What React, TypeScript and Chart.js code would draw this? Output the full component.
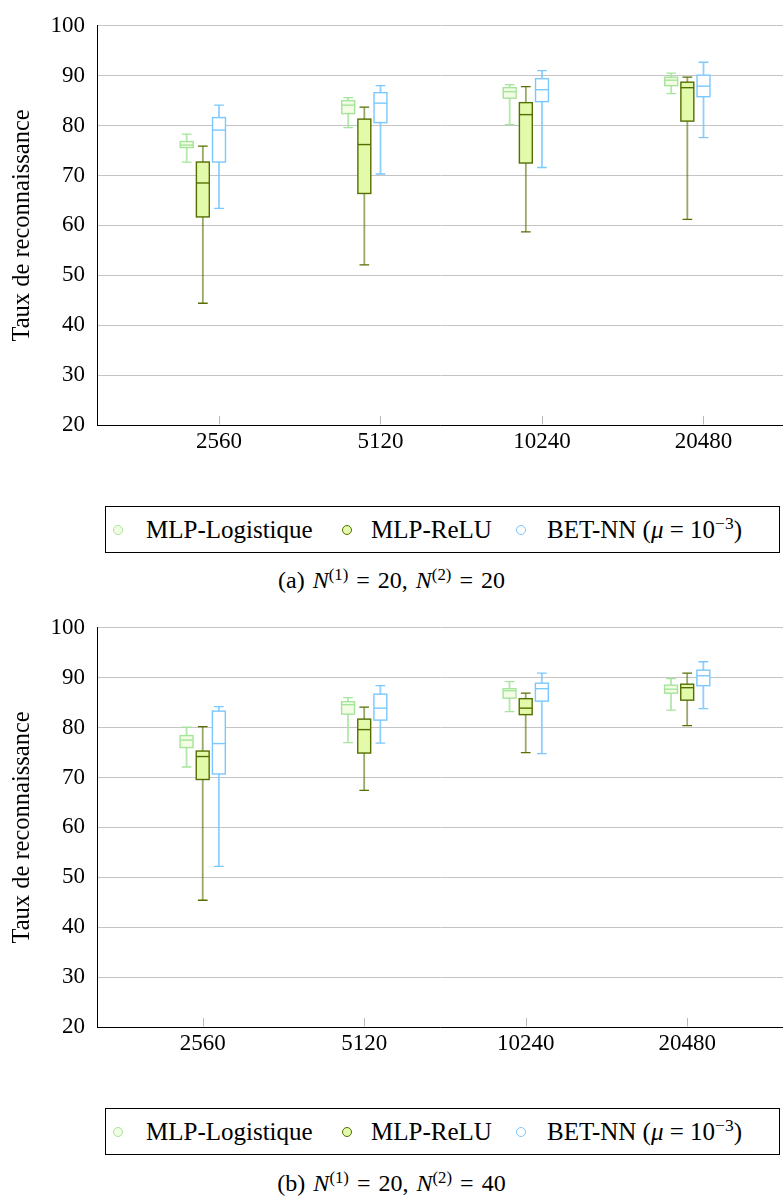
import React, { useEffect, useRef } from 'react';
import { Chart, registerables } from 'chart.js';

Chart.register(...registerables);

// ---------- data ----------
const categories = ['2560', '5120', '10240', '20480'];
const seriesNames = ['MLP-Logistique', 'MLP-ReLU', 'BET-NN'];
const tickPositions = [1, 2, 3, 4];

// each entry: [min, q1, median, q3, max]
const logistiqueA = [
  [72.7, 75.6, 76.1, 76.8, 78.3],
  [79.6, 82.4, 84.1, 85.0, 85.6],
  [80.2, 85.5, 86.8, 87.6, 88.2],
  [86.4, 88.0, 89.1, 89.7, 90.5],
];
const reluA = [
  [44.4, 61.7, 68.5, 72.7, 75.9],
  [52.1, 66.4, 76.2, 81.3, 83.7],
  [58.7, 72.5, 82.2, 84.6, 87.8],
  [61.2, 80.9, 87.6, 88.7, 89.7],
];
const betA = [
  [63.4, 72.7, 79.1, 81.6, 84.1],
  [70.3, 80.6, 84.5, 86.6, 88.0],
  [71.6, 84.8, 87.2, 89.4, 91.0],
  [77.6, 85.8, 87.9, 90.1, 92.7],
];

const logistiqueB = [
  [72.1, 76.0, 77.5, 78.4, 80.1],
  [77.0, 82.7, 84.6, 85.2, 86.0],
  [83.2, 85.9, 87.4, 87.8, 89.2],
  [83.5, 86.9, 87.7, 88.5, 89.8],
];
const reluB = [
  [45.4, 69.6, 74.2, 75.3, 80.2],
  [67.4, 74.9, 79.6, 81.7, 84.1],
  [75.0, 82.6, 83.9, 85.8, 86.9],
  [80.4, 85.5, 88.0, 88.7, 90.9],
];
const betB = [
  [52.2, 70.7, 76.8, 83.3, 84.2],
  [76.9, 81.5, 83.9, 86.7, 88.4],
  [74.8, 85.3, 87.8, 88.9, 90.9],
  [83.8, 88.4, 90.4, 91.5, 93.2],
];

// ---------- styles ----------
const FONT = "'Liberation Serif', 'Times New Roman', serif";
Chart.defaults.font.family = FONT;

const seriesStyles = [
  { stroke: 'rgb(165,228,155)', whisker: 'rgba(165,228,155,0.85)', fill: 'rgb(242,253,228)' },
  { stroke: 'rgb(84,110,0)', whisker: 'rgba(84,110,0,0.6)', fill: 'rgb(226,250,170)' },
  { stroke: 'rgb(122,200,255)', whisker: 'rgba(122,200,255,0.85)', fill: 'rgb(255,255,255)' },
];

type PanelProps = {
  top: number;
  series: number[][][];
  offsets: number[];
  xMin: number;
  xMax: number;
};

function BoxPanel({ top, series, offsets, xMin, xMax }: PanelProps) {
  const ref = useRef<HTMLCanvasElement | null>(null);

  useEffect(() => {
    if (!ref.current) return;
    const boxWidth = 0.08;
    const capWidth = 0.06;

    const boxPlugin = {
      id: 'boxplots',
      afterDatasetsDraw(chart: any) {
        const xs = chart.scales.x;
        const ys = chart.scales.y;
        const ctx = chart.ctx as CanvasRenderingContext2D;
        ctx.save();
        series.forEach((s, si) => {
          const st = seriesStyles[si];
          s.forEach((v, gi) => {
            const pos = tickPositions[gi] + offsets[si];
            const xc = xs.getPixelForValue(pos);
            const hw = xs.getPixelForValue(pos + boxWidth / 2) - xc;
            const hc = xs.getPixelForValue(pos + capWidth / 2) - xc;
            const [mn, q1, md, q3, mx] = v.map((d) => ys.getPixelForValue(d));
            // whiskers
            ctx.strokeStyle = st.whisker;
            ctx.lineWidth = 1.8;
            ctx.beginPath();
            ctx.moveTo(xc, q3);
            ctx.lineTo(xc, mx);
            ctx.moveTo(xc, q1);
            ctx.lineTo(xc, mn);
            ctx.stroke();
            // caps
            ctx.strokeStyle = st.stroke;
            ctx.lineWidth = 1.3;
            ctx.beginPath();
            ctx.moveTo(xc - hc, mx);
            ctx.lineTo(xc + hc, mx);
            ctx.moveTo(xc - hc, mn);
            ctx.lineTo(xc + hc, mn);
            ctx.stroke();
            // box
            ctx.fillStyle = st.fill;
            ctx.fillRect(xc - hw, q3, hw * 2, q1 - q3);
            ctx.lineWidth = 1.4;
            ctx.strokeRect(xc - hw, q3, hw * 2, q1 - q3);
            // median
            ctx.beginPath();
            ctx.moveTo(xc - hw, md);
            ctx.lineTo(xc + hw, md);
            ctx.stroke();
          });
        });
        ctx.restore();
      },
      afterDraw(chart: any) {
        const xs = chart.scales.x;
        const ctx = chart.ctx as CanvasRenderingContext2D;
        const bottom = chart.chartArea.bottom;
        ctx.save();
        ctx.strokeStyle = '#b8b8b8';
        ctx.lineWidth = 1;
        xs.ticks.forEach((t: any) => {
          const x = Math.round(xs.getPixelForValue(t.value)) + 0.5;
          ctx.beginPath();
          ctx.moveTo(x, bottom - 0.5);
          ctx.lineTo(x, bottom - 9);
          ctx.stroke();
        });
        ctx.restore();
      },
    };

    const chart = new Chart(ref.current, {
      type: 'scatter',
      data: {
        datasets: seriesNames.map((name, si) => ({
          label: name,
          data: series[si].map((v, gi) => ({ x: tickPositions[gi] + offsets[si], y: v[2] })),
          pointRadius: 0,
          showLine: false,
          borderColor: seriesStyles[si].stroke,
          backgroundColor: seriesStyles[si].fill,
        })),
      },
      options: {
        responsive: false,
        animation: false,
        events: [],
        font: { family: FONT },
        layout: { padding: { top: 15, left: 0, right: 0, bottom: 0 } },
        plugins: {
          legend: { display: false },
          tooltip: { enabled: false },
        },
        scales: {
          x: {
            type: 'linear',
            min: xMin,
            max: xMax,
            afterBuildTicks: (s: any) => {
              s.ticks = tickPositions.map((v) => ({ value: v }));
            },
            afterFit: (s: any) => {
              s.height = 45;
            },
            grid: { display: true, drawOnChartArea: false, drawTicks: false, color: 'rgba(0,0,0,0)' },
            border: { display: true, color: '#000', width: 1 },
            ticks: {
              autoSkip: false,
              maxRotation: 0,
              padding: 3,
              color: '#000',
              font: { family: FONT, size: 23 },
              callback: (v: any) => categories[Math.round(Number(v)) - 1] ?? '',
            },
          },
          y: {
            min: 20,
            max: 100,
            afterFit: (s: any) => {
              s.width = 97;
            },
            grid: { color: '#c4c4c4', lineWidth: 1, drawTicks: false },
            border: { display: true, color: '#000', width: 1 },
            ticks: {
              stepSize: 10,
              padding: 12,
              color: '#000',
              font: { family: FONT, size: 23 },
            },
            title: {
              display: true,
              text: 'Taux de reconnaissance',
              color: '#000',
              font: { family: FONT, size: 24.5 },
              padding: { top: 8, bottom: 0 },
            },
          },
        },
      },
      plugins: [boxPlugin],
    } as any);

    return () => {
      chart.destroy();
    };
  }, [series, offsets, xMin, xMax]);

  return (
    <canvas
      ref={ref}
      width={783}
      height={470}
      style={{ position: 'absolute', left: 0, top, width: 783, height: 470 }}
    />
  );
}

function Marker({ si, cx }: { si: number; cx: number }) {
  const st = seriesStyles[si];
  return (
    <div
      style={{
        position: 'absolute',
        left: cx - 5,
        top: 18,
        width: 8,
        height: 8,
        borderRadius: '50%',
        border: `1.2px solid ${st.stroke}`,
        background: st.fill,
      }}
    />
  );
}

const supStyle: React.CSSProperties = {
  fontSize: '0.7em',
  position: 'relative',
  top: '-0.5em',
  lineHeight: 0,
};

function Legend({ top }: { top: number }) {
  const textStyle = (left: number): React.CSSProperties => ({
    position: 'absolute',
    left,
    top: 0,
    height: 45,
    lineHeight: '45px',
    fontSize: 25,
    whiteSpace: 'nowrap',
  });
  return (
    <div
      style={{
        position: 'absolute',
        left: 105,
        top,
        width: 675,
        height: 47,
        border: '1px solid #000',
        boxSizing: 'border-box',
        fontFamily: FONT,
      }}
    >
      <Marker si={0} cx={12} />
      <span style={textStyle(40)}>{seriesNames[0]}</span>
      <Marker si={1} cx={241} />
      <span style={textStyle(265)}>{seriesNames[1]}</span>
      <Marker si={2} cx={415} />
      <span style={textStyle(441)}>
        {seriesNames[2]} (<i>μ</i>&nbsp;=&nbsp;10<span style={supStyle}>−3</span>)
      </span>
    </div>
  );
}

function Caption({ top, tag, n1, n2 }: { top: number; tag: string; n1: string; n2: string }) {
  return (
    <div
      style={{
        position: 'absolute',
        left: 0,
        top,
        width: 783,
        textAlign: 'center',
        fontFamily: FONT,
        fontSize: 24,
        lineHeight: '30px',
        whiteSpace: 'nowrap',
        wordSpacing: '2px',
      }}
    >
      ({tag}) <i>N</i>
      <span style={supStyle}>(1)</span> = {n1}, <i>N</i>
      <span style={supStyle}>(2)</span> = {n2}
    </div>
  );
}

const seriesA = [logistiqueA, reluA, betA];
const seriesB = [logistiqueB, reluB, betB];
const offsetsA = [-0.2, -0.1, 0];
const offsetsB = [-0.1, 0, 0.1];

export default function App() {
  return (
    <div
      style={{
        position: 'absolute',
        left: 0,
        top: 0,
        width: 783,
        height: 1201,
        background: '#fff',
        color: '#000',
        overflow: 'hidden',
        fontFamily: FONT,
      }}
    >
      <BoxPanel top={0} series={seriesA} offsets={offsetsA} xMin={0.2446} xMax={4.4923} />
      <Legend top={506} />
      <Caption top={565} tag="a" n1="20" n2="20" />
      <BoxPanel top={602} series={seriesB} offsets={offsetsB} xMin={0.3455} xMax={4.5932} />
      <Legend top={1108} />
      <Caption top={1168} tag="b" n1="20" n2="40" />
    </div>
  );
}
